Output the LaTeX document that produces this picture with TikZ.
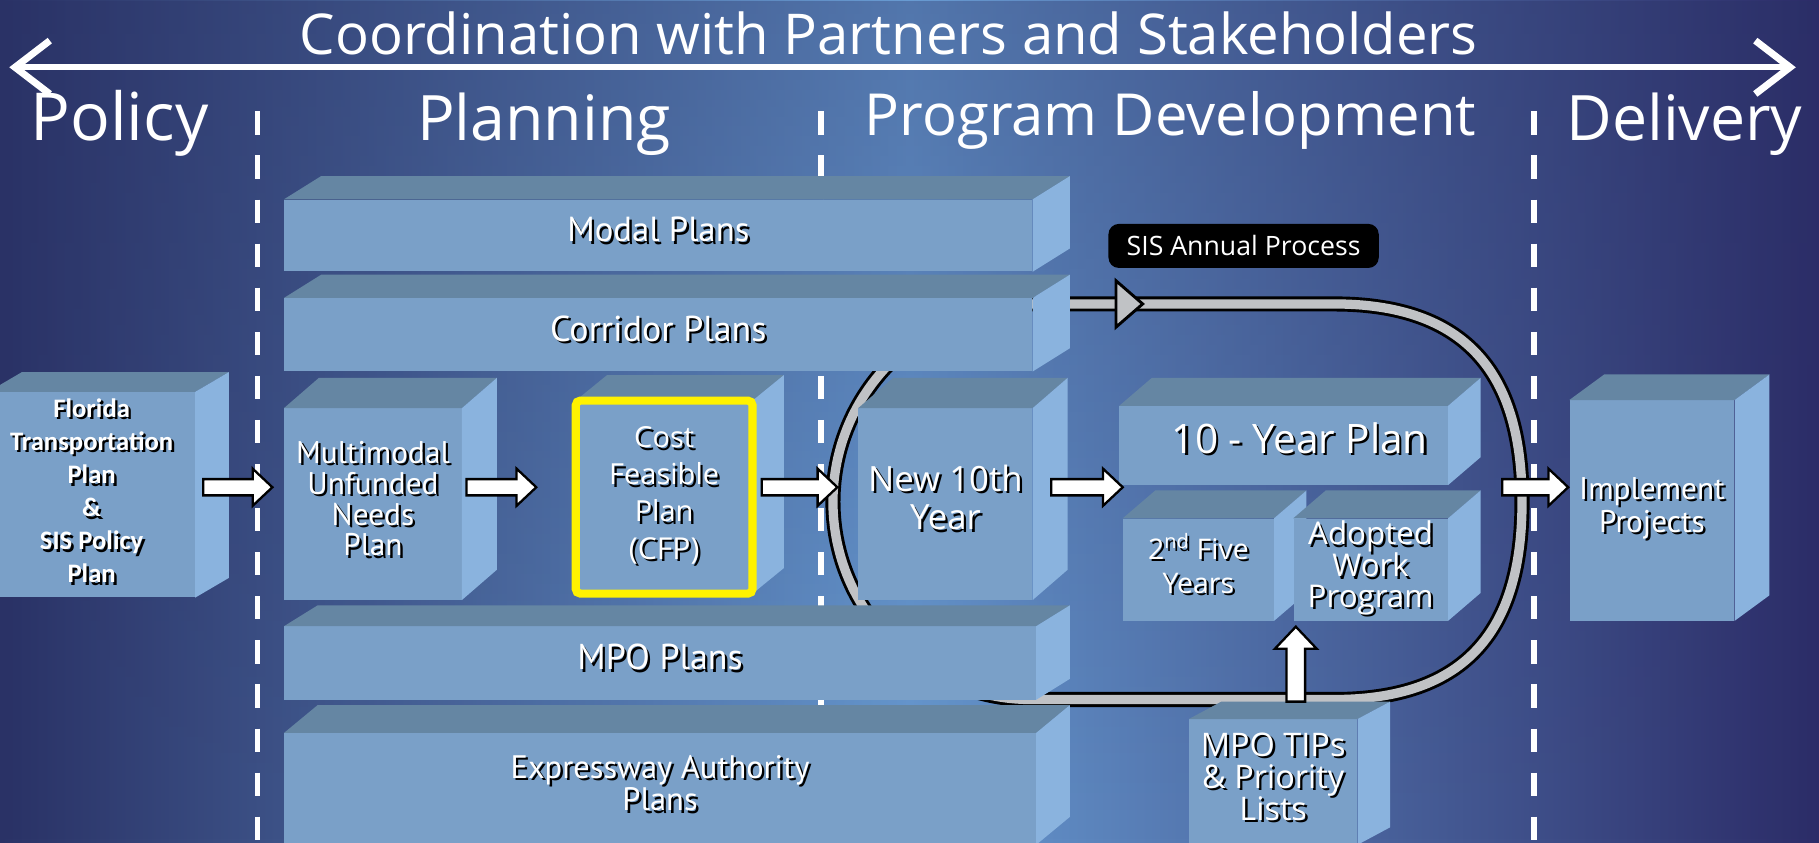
\documentclass[tikz,border=0pt]{standalone}
\usepackage{fontspec}
\setmainfont{Open Sans}
\newfontfamily\boxfont{PT Sans}
\newfontfamily\fdotfont{Carlito}
\usetikzlibrary{arrows.meta,positioning,calc,fadings}

\definecolor{bgleft}{RGB}{42,50,102}
\definecolor{bglight}{RGB}{104,155,210}
\definecolor{bgright}{RGB}{44,44,104}
\definecolor{frontface}{RGB}{122,160,200}
\definecolor{topface}{RGB}{101,134,163}
\definecolor{sideface}{RGB}{138,179,222}
\definecolor{trackgrey}{RGB}{192,194,197}

% top and side faces of a block: node, dx, dy
\newcommand\cubefaces[3]{%
  \fill[topface] (#1.north west) -- ++(#2,-#3) -- ([shift={(#2,-#3)}]#1.north east) -- (#1.north east) -- cycle;
  \fill[sideface] (#1.north east) -- ++(#2,-#3) -- ([shift={(#2,-#3)}]#1.south east) -- (#1.south east) -- cycle;}

% white text with a dark drop shadow
\newcommand\shadowed[1]{\rlap{\kern2pt\raisebox{-2pt}{\color{black}\begin{tabular}[b]{@{}c@{}}#1\end{tabular}}}\begin{tabular}[b]{@{}c@{}}#1\end{tabular}}

% white block arrows
\newcommand\blockright[2]{%
  \filldraw[blockarrow] let \p1=(#1), \p2=(#2) in
    (\x1,\y1+7pt) -- (\x2-17pt,\y1+7pt) -- (\x2-17pt,\y1+16pt) -- (\x2,\y1)
    -- (\x2-17pt,\y1-16pt) -- (\x2-17pt,\y1-7pt) -- (\x1,\y1-7pt) -- cycle;}
\newcommand\blockup[2]{%
  \filldraw[blockarrow] let \p1=(#1), \p2=(#2) in
    (\x1-8pt,\y1) -- (\x1-8pt,\y2-19pt) -- (\x1-18pt,\y2-19pt) -- (\x1,\y2)
    -- (\x1+18pt,\y2-19pt) -- (\x1+8pt,\y2-19pt) -- (\x1+8pt,\y1) -- cycle;}

\begin{document}
\begin{tikzpicture}[x=1pt, y=-1pt,
  face/.style={fill=frontface, text=white, inner sep=0pt, font=\boxfont\fontsize{30}{28}\selectfont},
  phase/.style={text=white, anchor=base, inner sep=0pt, font=\fontsize{54}{60}\selectfont},
  divider/.style={white, line width=5pt, dash pattern=on 20pt off 18pt},
  track/.style={draw=black, line width=2.5pt, double=trackgrey, double distance=8pt},
  sislabel/.style={fill=black, text=white, rounded corners=9pt, minimum width=233pt, minimum height=38pt, font=\fontsize{23}{25}\selectfont},
  blockarrow/.style={fill=white, draw=black, line width=2pt, line join=miter}]

  \useasboundingbox (0,0) rectangle (1568,726);
  \clip (0,0) rectangle (1568,726);
  \shade[left color=bgleft, right color=bgright, middle color=bglight] (0,0) rectangle (1568,726);
  \fill[bgleft, path fading=south, opacity=.35] (0,0) rectangle (1568,726);

  % header
  \node[phase, font=\fontsize{48.5}{50}\selectfont] (title) at (766,47) {Coordination with Partners and Stakeholders};
  \coordinate (arrowL) at (8,58);
  \coordinate (arrowR) at (1548,58);
  \draw[white, line width=5pt, {Straight Barb[length=30pt, width=46pt, line width=6pt]}-{Straight Barb[length=30pt, width=46pt, line width=6pt]}] (arrowL) -- (arrowR);

  \node[phase, font=\fontsize{57}{60}\selectfont] (policy) at (103,121) {Policy};
  \node[phase] (planning) at (469,121) {Planning};
  \node[phase, font=\fontsize{50}{60}\selectfont] (progdev) at (1009,117) {Program Development};
  \node[phase] (delivery) at (1452,121) {Delivery};

  \foreach \x in {222,708,1322} \draw[divider] (\x,96) -- (\x,726);

  % SIS annual process track
  \draw[track] (889,262) -- (1150,262) .. controls (1272,262) and (1312,331) .. (1312,432.5)
    .. controls (1312,534) and (1272,603) .. (1150,603) -- (889,603)
    .. controls (794.8,603) and (718,526.7) .. (718,432.5) .. controls (718,338.3) and (794.8,262) .. cycle;
  \filldraw[fill=trackgrey, draw=black, line width=2.5pt, line join=miter] (962,242) -- (985,262) -- (962,282) -- cycle;
  \node[sislabel] (sis) at (1072,212) {SIS Annual Process};

  % blocks
  \node[face, minimum width=645pt, minimum height=62pt] (modal) at (567.5,203) {\shadowed{Modal Plans}};
  \cubefaces{modal}{32}{20}
  \node[face, minimum width=645pt, minimum height=63pt, font=\boxfont\fontsize{31}{28}\selectfont] (corridor) at (567.5,288.5) {\shadowed{Corridor Plans}};
  \cubefaces{corridor}{32}{20}

  \node[face, minimum width=178pt, minimum height=177pt, font=\fdotfont\bfseries\fontsize{23}{28.5}\selectfont] (florida) at (79,426.5)
    {\shadowed{Florida\\Transportation\\Plan\\\&\\SIS Policy\\Plan}};
  \cubefaces{florida}{29}{17}
  \node[face, minimum width=153pt, minimum height=165pt, font=\boxfont\fontsize{27}{24.5}\selectfont] (multi) at (321.5,434.5)
    {\shadowed{Multimodal\\Unfunded\\Needs\\Plan}};
  \cubefaces{multi}{30}{26}
  \node[face, minimum width=152pt, minimum height=166pt, font=\fontsize{25}{32}\selectfont] (cfp) at (572.5,428.5)
    {\shadowed{Cost\\Feasible\\Plan\\{\fontsize{26}{26}\selectfont(CFP)}}};
  \cubefaces{cfp}{27}{22}
  \draw[yellow, line width=7pt, rounded corners=4pt] (cfp.south west) rectangle (cfp.north east);
  \node[face, minimum width=150pt, minimum height=165pt, font=\fontsize{30}{33}\selectfont] (newyear) at (815,434.5)
    {\shadowed{New 10th\\Year}};
  \cubefaces{newyear}{30}{26}

  \node[face, minimum width=283pt, minimum height=68pt, font=\fontsize{35}{35}\selectfont] (tenyear) at (1106.5,384)
    {\hspace*{28pt}\shadowed{10 - Year Plan}};
  \cubefaces{tenyear}{28}{24}
  \node[face, minimum width=130pt, minimum height=88pt, font=\fontsize{24.5}{29}\selectfont] (fiveyears) at (1033,491)
    {\shadowed{2\textsuperscript{nd} Five\\Years}};
  \cubefaces{fiveyears}{28}{24}
  \node[face, minimum width=133pt, minimum height=88pt, font=\fontsize{27}{24}\selectfont] (adopted) at (1181.5,491)
    {\shadowed{Adopted\\Work\\Program}};
  \cubefaces{adopted}{28}{24}
  \node[face, minimum width=142pt, minimum height=190pt, font=\boxfont\fontsize{27}{28}\selectfont] (implement) at (1424,440)
    {\shadowed{Implement\\Projects}};
  \cubefaces{implement}{30}{22}

  \node[face, minimum width=648pt, minimum height=63pt, font=\boxfont\fontsize{31}{28}\selectfont] (mpo) at (569,571.5) {\shadowed{MPO Plans}};
  \cubefaces{mpo}{29}{18}
  \node[face, minimum width=648pt, minimum height=96pt, font=\boxfont\fontsize{28}{28}\selectfont] (express) at (569,680)
    {\shadowed{Expressway Authority\\Plans}};
  \cubefaces{express}{29}{24}
  \node[face, minimum width=145pt, minimum height=108pt, font=\fontsize{28}{24}\selectfont] (tips) at (1097.5,674)
    {\shadowed{MPO TIPs\\\& Priority\\Lists}};
  \cubefaces{tips}{28}{15}

  % flow arrows
  \coordinate (row) at (0,420);
  \coordinate (exitpt) at (1295,420);
  \blockright{$(florida.east |- row)+(7,0)$}{$(multi.west |- row)+(-10,0)$}
  \blockright{$(multi.east |- row)+(4,0)$}{$(cfp.west |- row)+(-34,0)$}
  \blockright{$(cfp.east |- row)+(8,0)$}{$(newyear.west |- row)+(-18,0)$}
  \blockright{$(newyear.east |- row)+(16,0)$}{$(tenyear.west |- row)+(3,0)$}
  \blockright{exitpt}{$(implement.west |- row)+(-1,0)$}
  \blockup{$(tips.north)+(19.5,-15)$}{$(adopted.south)+(-64.5,5)$}
\end{tikzpicture}
\end{document}
